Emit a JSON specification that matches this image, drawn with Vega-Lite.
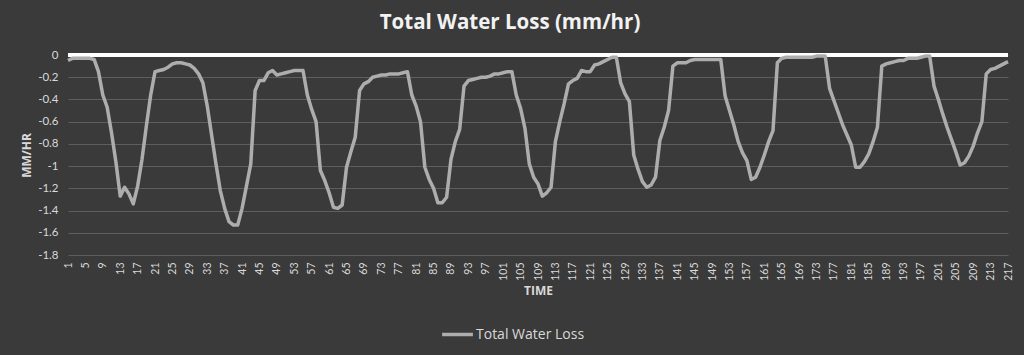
{
  "$schema": "https://vega.github.io/schema/vega-lite/v6.json",
  "autosize": {"type": "none"},
  "width": 940,
  "height": 200,
  "padding": {"left": 68, "top": 55, "right": 16, "bottom": 100},
  "background": "#3a3a3a",
  "title": {"text": "Total Water Loss (mm/hr)", "font": "Open Sans", "fontSize": 20.5, "fontWeight": "bold", "color": "#f2f2f2", "anchor": "middle", "dx": -28, "offset": 16},
  "config": {
    "view": {"stroke": null},
    "axis": {"labelColor": "#d9d9d9", "labelFont": "Lato", "titleColor": "#d9d9d9", "titleFont": "Open Sans", "titleFontWeight": "bold", "titleFontSize": 12}
  },
  "data": {"values": [
    {"t":1,"v":-0.05},{"t":2,"v":-0.03},{"t":3,"v":-0.03},{"t":4,"v":-0.03},{"t":5,"v":-0.03},{"t":6,"v":-0.03},{"t":7,"v":-0.04},{"t":8,"v":-0.15},{"t":9,"v":-0.36},{"t":10,"v":-0.47},
    {"t":11,"v":-0.7},{"t":12,"v":-0.96},{"t":13,"v":-1.27},{"t":14,"v":-1.19},{"t":15,"v":-1.25},{"t":16,"v":-1.34},{"t":17,"v":-1.18},{"t":18,"v":-0.94},{"t":19,"v":-0.64},{"t":20,"v":-0.36},
    {"t":21,"v":-0.15},{"t":22,"v":-0.14},{"t":23,"v":-0.13},{"t":24,"v":-0.11},{"t":25,"v":-0.08},{"t":26,"v":-0.07},{"t":27,"v":-0.07},{"t":28,"v":-0.08},{"t":29,"v":-0.09},{"t":30,"v":-0.12},
    {"t":31,"v":-0.17},{"t":32,"v":-0.25},{"t":33,"v":-0.46},{"t":34,"v":-0.72},{"t":35,"v":-0.98},{"t":36,"v":-1.22},{"t":37,"v":-1.38},{"t":38,"v":-1.5},{"t":39,"v":-1.53},{"t":40,"v":-1.53},
    {"t":41,"v":-1.38},{"t":42,"v":-1.18},{"t":43,"v":-0.98},{"t":44,"v":-0.32},{"t":45,"v":-0.23},{"t":46,"v":-0.23},{"t":47,"v":-0.16},{"t":48,"v":-0.14},{"t":49,"v":-0.18},{"t":50,"v":-0.17},
    {"t":51,"v":-0.16},{"t":52,"v":-0.15},{"t":53,"v":-0.14},{"t":54,"v":-0.14},{"t":55,"v":-0.14},{"t":56,"v":-0.36},{"t":57,"v":-0.49},{"t":58,"v":-0.6},{"t":59,"v":-1.04},{"t":60,"v":-1.13},
    {"t":61,"v":-1.24},{"t":62,"v":-1.37},{"t":63,"v":-1.38},{"t":64,"v":-1.35},{"t":65,"v":-1.01},{"t":66,"v":-0.87},{"t":67,"v":-0.74},{"t":68,"v":-0.32},{"t":69,"v":-0.26},{"t":70,"v":-0.24},
    {"t":71,"v":-0.2},{"t":72,"v":-0.19},{"t":73,"v":-0.18},{"t":74,"v":-0.18},{"t":75,"v":-0.17},{"t":76,"v":-0.17},{"t":77,"v":-0.17},{"t":78,"v":-0.16},{"t":79,"v":-0.15},{"t":80,"v":-0.36},
    {"t":81,"v":-0.46},{"t":82,"v":-0.6},{"t":83,"v":-1.01},{"t":84,"v":-1.12},{"t":85,"v":-1.2},{"t":86,"v":-1.33},{"t":87,"v":-1.33},{"t":88,"v":-1.28},{"t":89,"v":-0.94},{"t":90,"v":-0.78},
    {"t":91,"v":-0.67},{"t":92,"v":-0.28},{"t":93,"v":-0.23},{"t":94,"v":-0.22},{"t":95,"v":-0.21},{"t":96,"v":-0.2},{"t":97,"v":-0.2},{"t":98,"v":-0.19},{"t":99,"v":-0.17},{"t":100,"v":-0.17},
    {"t":101,"v":-0.16},{"t":102,"v":-0.15},{"t":103,"v":-0.15},{"t":104,"v":-0.36},{"t":105,"v":-0.48},{"t":106,"v":-0.66},{"t":107,"v":-0.98},{"t":108,"v":-1.1},{"t":109,"v":-1.16},{"t":110,"v":-1.27},
    {"t":111,"v":-1.24},{"t":112,"v":-1.19},{"t":113,"v":-0.78},{"t":114,"v":-0.6},{"t":115,"v":-0.44},{"t":116,"v":-0.26},{"t":117,"v":-0.23},{"t":118,"v":-0.21},{"t":119,"v":-0.14},{"t":120,"v":-0.15},
    {"t":121,"v":-0.15},{"t":122,"v":-0.09},{"t":123,"v":-0.08},{"t":124,"v":-0.06},{"t":125,"v":-0.04},{"t":126,"v":-0.02},{"t":127,"v":-0.02},{"t":128,"v":-0.25},{"t":129,"v":-0.35},{"t":130,"v":-0.42},
    {"t":131,"v":-0.9},{"t":132,"v":-1.03},{"t":133,"v":-1.14},{"t":134,"v":-1.19},{"t":135,"v":-1.17},{"t":136,"v":-1.1},{"t":137,"v":-0.77},{"t":138,"v":-0.65},{"t":139,"v":-0.5},{"t":140,"v":-0.1},
    {"t":141,"v":-0.07},{"t":142,"v":-0.07},{"t":143,"v":-0.07},{"t":144,"v":-0.05},{"t":145,"v":-0.04},{"t":146,"v":-0.04},{"t":147,"v":-0.04},{"t":148,"v":-0.04},{"t":149,"v":-0.04},{"t":150,"v":-0.04},
    {"t":151,"v":-0.04},{"t":152,"v":-0.37},{"t":153,"v":-0.5},{"t":154,"v":-0.63},{"t":155,"v":-0.78},{"t":156,"v":-0.88},{"t":157,"v":-0.95},{"t":158,"v":-1.12},{"t":159,"v":-1.1},{"t":160,"v":-1.01},
    {"t":161,"v":-0.9},{"t":162,"v":-0.78},{"t":163,"v":-0.68},{"t":164,"v":-0.07},{"t":165,"v":-0.03},{"t":166,"v":-0.02},{"t":167,"v":-0.02},{"t":168,"v":-0.02},{"t":169,"v":-0.02},{"t":170,"v":-0.02},
    {"t":171,"v":-0.02},{"t":172,"v":-0.02},{"t":173,"v":-0.01},{"t":174,"v":-0.01},{"t":175,"v":-0.01},{"t":176,"v":-0.3},{"t":177,"v":-0.41},{"t":178,"v":-0.52},{"t":179,"v":-0.63},{"t":180,"v":-0.72},
    {"t":181,"v":-0.81},{"t":182,"v":-1.01},{"t":183,"v":-1.01},{"t":184,"v":-0.96},{"t":185,"v":-0.89},{"t":186,"v":-0.78},{"t":187,"v":-0.65},{"t":188,"v":-0.1},{"t":189,"v":-0.08},{"t":190,"v":-0.07},
    {"t":191,"v":-0.06},{"t":192,"v":-0.05},{"t":193,"v":-0.05},{"t":194,"v":-0.03},{"t":195,"v":-0.03},{"t":196,"v":-0.03},{"t":197,"v":-0.02},{"t":198,"v":-0.01},{"t":199,"v":-0.01},{"t":200,"v":-0.28},
    {"t":201,"v":-0.4},{"t":202,"v":-0.53},{"t":203,"v":-0.65},{"t":204,"v":-0.76},{"t":205,"v":-0.87},{"t":206,"v":-0.99},{"t":207,"v":-0.97},{"t":208,"v":-0.91},{"t":209,"v":-0.82},{"t":210,"v":-0.7},
    {"t":211,"v":-0.6},{"t":212,"v":-0.17},{"t":213,"v":-0.13},{"t":214,"v":-0.12},{"t":215,"v":-0.1},{"t":216,"v":-0.08},{"t":217,"v":-0.06}
  ]},
  "encoding": {
    "x": {"field": "t", "type": "quantitative", "title": "TIME",
      "scale": {"domain": [1, 217], "nice": false, "zero": false},
      "axis": {"values": [1,5,9,13,17,21,25,29,33,37,41,45,49,53,57,61,65,69,73,77,81,85,89,93,97,101,105,109,113,117,121,125,129,133,137,141,145,149,153,157,161,165,169,173,177,181,185,189,193,197,201,205,209,213,217],
        "labelAngle": -90, "labelFontSize": 10.5, "labelPadding": 7, "ticks": false, "domain": false, "grid": false, "labelOverlap": false, "labelFlush": false, "titlePadding": 5}},
    "y": {"field": "v", "type": "quantitative", "title": "MM/HR",
      "scale": {"domain": [-1.8, 0], "nice": false},
      "axis": {"values": [0,-0.2,-0.4,-0.6,-0.8,-1,-1.2,-1.4,-1.6,-1.8], "labelExpr": "toString(datum.value)",
        "labelFontSize": 11.5, "labelPadding": 10, "ticks": false, "domain": false, "grid": true, "gridColor": "#5e5e5e", "gridWidth": 1, "titlePadding": 4}}
  },
  "layer": [
    {"mark": {"type": "rule", "color": "#ffffff", "strokeWidth": 2.5}, "encoding": {"y": {"datum": 0}, "x": null}},
    {"mark": {"type": "line", "strokeWidth": 3.5, "strokeJoin": "round"},
      "encoding": {"color": {"datum": "Total Water Loss", "scale": {"range": ["#adadad"]},
        "legend": {"title": null, "orient": "none", "legendX": 372, "legendY": 262, "symbolType": "stroke", "symbolStrokeWidth": 3.5, "symbolSize": 950, "labelFont": "Open Sans", "labelFontSize": 14, "labelColor": "#d9d9d9", "labelOffset": 1}}}}
  ]
}
